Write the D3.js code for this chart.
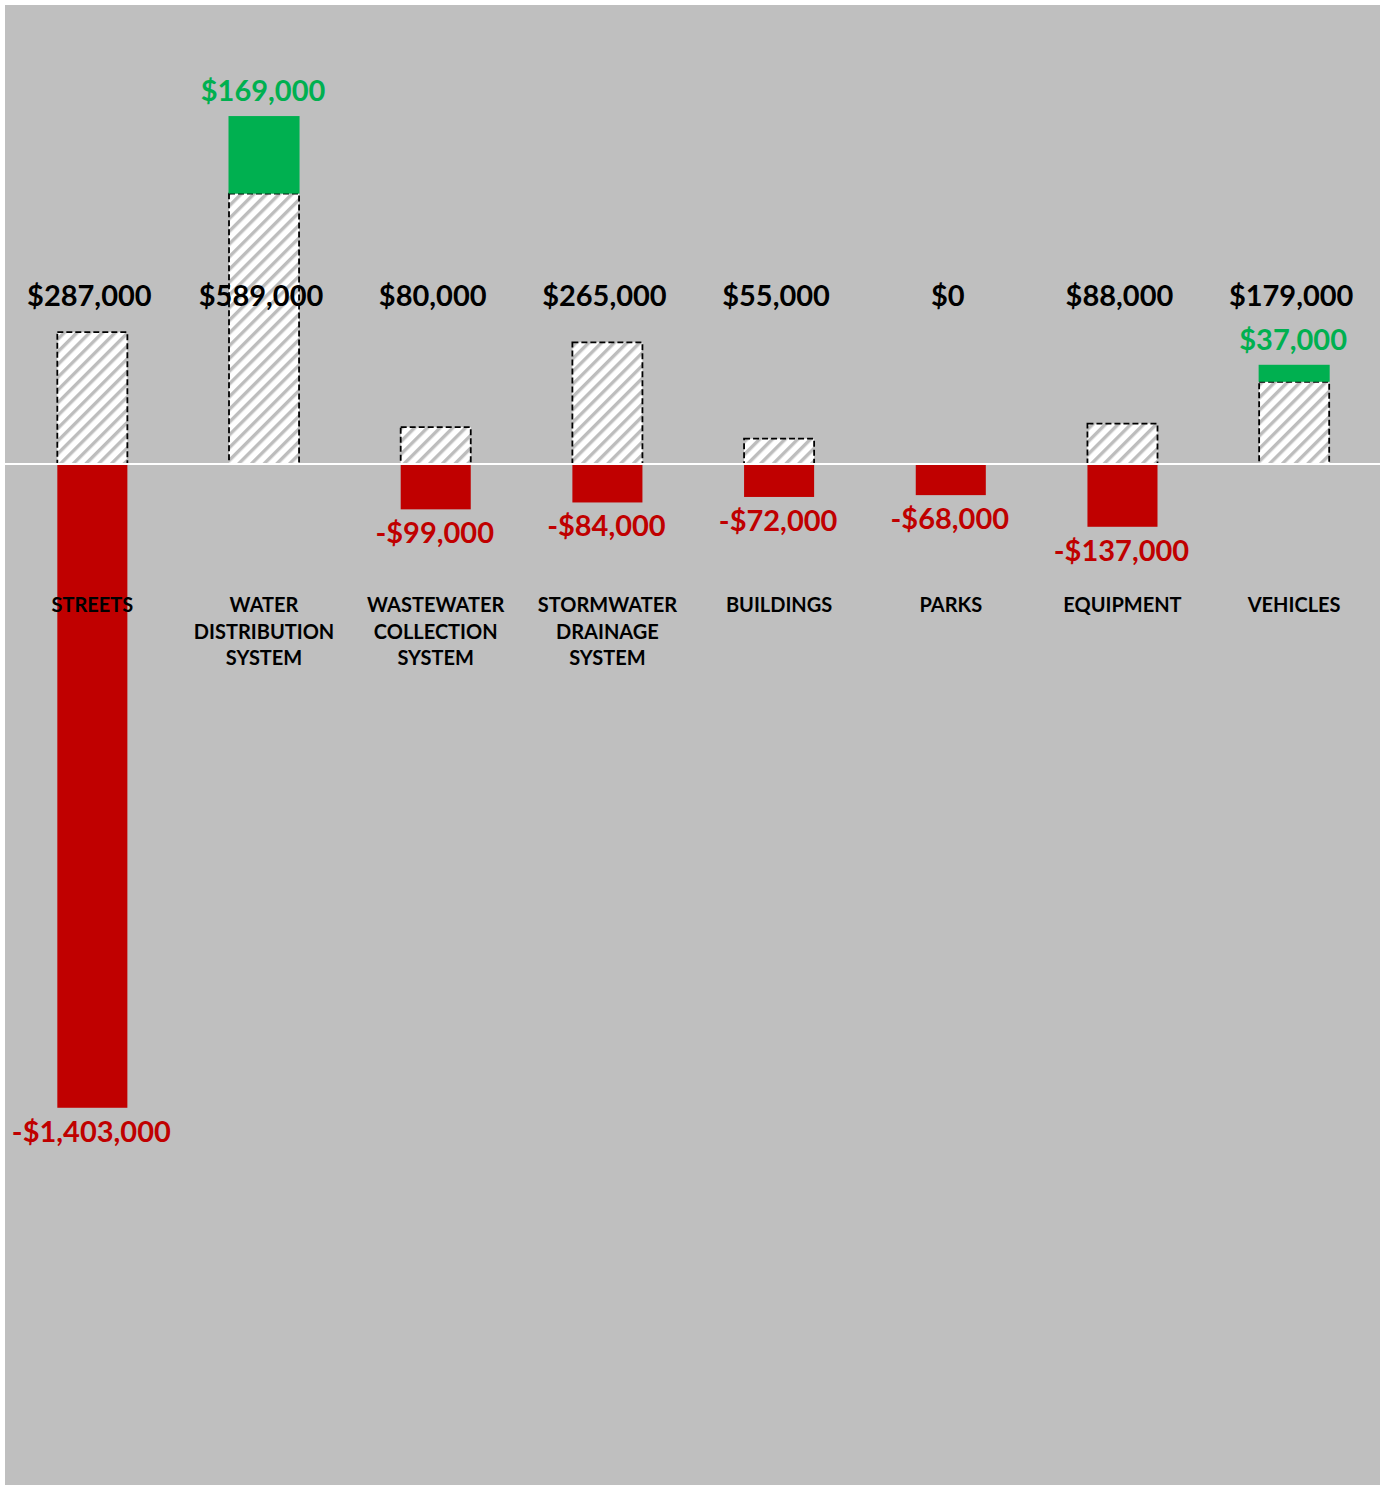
<!DOCTYPE html>
<html>
<head>
<meta charset="utf-8">
<script src="https://cdn.jsdelivr.net/npm/d3@7"></script>
<style>
  html, body { margin: 0; padding: 0; background: #ffffff; }
  svg { display: block; }
</style>
</head>
<body>
<svg id="chart" width="1383" height="1486"></svg>
<script>
// Asset categories (each entry is split into lines for the label)
const categories = [
  ["STREETS"],
  ["WATER", "DISTRIBUTION", "SYSTEM"],
  ["WASTEWATER", "COLLECTION", "SYSTEM"],
  ["STORMWATER", "DRAINAGE", "SYSTEM"],
  ["BUILDINGS"],
  ["PARKS"],
  ["EQUIPMENT"],
  ["VEHICLES"]
];
// Current annual funding per category
const funding = [287000, 589000, 80000, 265000, 55000, 0, 88000, 179000];
// Surplus (+) or shortfall (-) against the need
const gap = [-1403000, 169000, -99000, -84000, -72000, -68000, -137000, 37000];

const plot = { left: 5, top: 5, right: 1380, bottom: 1485 };
const GREEN = "#00B050", RED = "#C00000", BG = "#BFBFBF";
const FONT = "Lato, 'Noto Sans', sans-serif";

const svg = d3.select("#chart");

// Diagonal hatch used for the funded portion
const defs = svg.append("defs");
const pat = defs.append("pattern")
  .attr("id", "hatch")
  .attr("patternUnits", "userSpaceOnUse")
  .attr("width", 9).attr("height", 9)
  .attr("patternTransform", "rotate(45)");
pat.append("rect").attr("width", 9).attr("height", 9).attr("fill", "#ffffff");
pat.append("rect").attr("x", 0).attr("width", 3.4).attr("height", 9).attr("fill", "#BDBDBD");

svg.append("rect")
  .attr("x", plot.left).attr("y", plot.top)
  .attr("width", plot.right - plot.left).attr("height", plot.bottom - plot.top)
  .attr("fill", BG);

const idx = d3.range(categories.length);
const x = d3.scaleBand().domain(idx).range([plot.left + 1.5, plot.right]).paddingInner(0.592).paddingOuter(0.296);
const y = d3.scaleLinear().domain([-2225000, 1000000]).range([plot.bottom, plot.top]);
const bw = x.bandwidth();
const cx = i => x(i) + bw / 2;
const fmt = v => (v < 0 ? "-$" : "$") + d3.format(",")(Math.abs(v));

// Funded (hatched) bars
svg.append("g").selectAll("rect")
  .data(idx.filter(i => funding[i] > 0))
  .join("rect")
  .attr("x", i => x(i))
  .attr("y", i => y(funding[i]))
  .attr("width", bw)
  .attr("height", i => y(0) - y(funding[i]))
  .attr("fill", "url(#hatch)")
  .attr("stroke", "#000")
  .attr("stroke-width", 1.8)
  .attr("stroke-dasharray", "6,3");

// Surplus bars stacked on top of funding
svg.append("g").selectAll("rect")
  .data(idx.filter(i => gap[i] > 0))
  .join("rect")
  .attr("x", i => x(i) - 0.5)
  .attr("y", i => y(funding[i] + gap[i]))
  .attr("width", bw + 1)
  .attr("height", i => y(funding[i]) - y(funding[i] + gap[i]))
  .attr("fill", GREEN);

// Shortfall bars hanging below zero
svg.append("g").selectAll("rect")
  .data(idx.filter(i => gap[i] < 0))
  .join("rect")
  .attr("x", i => x(i))
  .attr("y", y(0) + 1)
  .attr("width", bw)
  .attr("height", i => y(gap[i]) - y(0) - 1)
  .attr("fill", RED);

// Zero line
svg.append("line")
  .attr("x1", plot.left).attr("x2", plot.right)
  .attr("y1", y(0)).attr("y2", y(0))
  .attr("stroke", "#ffffff").attr("stroke-width", 2);

// Funding amounts
svg.append("g").selectAll("text")
  .data(idx)
  .join("text")
  .attr("x", i => cx(i) - 3)
  .attr("y", 306)
  .attr("text-anchor", "middle")
  .attr("font-family", FONT).attr("font-weight", 700).attr("font-size", 29)
  .attr("fill", "#000")
  .text(i => fmt(funding[i]));

// Gap amounts
svg.append("g").selectAll("text")
  .data(idx)
  .join("text")
  .attr("x", i => cx(i) - 1)
  .attr("y", i => gap[i] > 0 ? y(funding[i] + gap[i]) - 15 : y(gap[i]) + 34)
  .attr("text-anchor", "middle")
  .attr("font-family", FONT).attr("font-weight", 700).attr("font-size", 29)
  .attr("fill", i => gap[i] > 0 ? GREEN : RED)
  .text(i => fmt(gap[i]));

// Category names
const cat = svg.append("g").selectAll("text")
  .data(idx)
  .join("text")
  .attr("x", i => cx(i))
  .attr("y", 612)
  .attr("text-anchor", "middle")
  .attr("font-family", FONT).attr("font-weight", 700).attr("font-size", 20)
  .attr("fill", "#000");
cat.selectAll("tspan")
  .data(i => categories[i].map(t => ({ t, x: cx(i) })))
  .join("tspan")
  .attr("x", d => d.x)
  .attr("dy", (d, k) => k === 0 ? 0 : 26.5)
  .text(d => d.t);
</script>
</body>
</html>
